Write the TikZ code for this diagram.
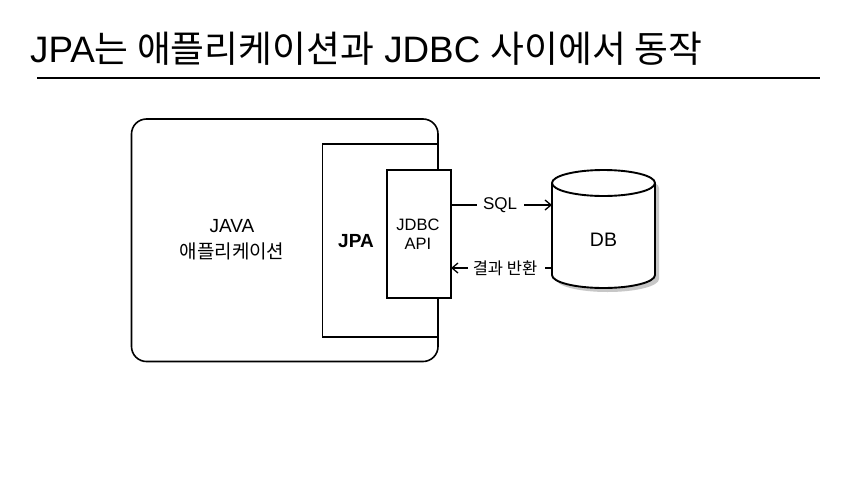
\documentclass[tikz,border=0pt]{standalone}
\usepackage{fontspec}
\setmainfont{Liberation Sans}
\newfontfamily\kr{Noto Sans CJK KR}
\usetikzlibrary{arrows.meta}
\begin{document}
\begin{tikzpicture}[x=1pt,y=-1pt,
  box/.style={draw,line width=1.6pt},
  lbl/.style={inner sep=0pt,align=center},
  flow/.style={line width=1.3pt,-{Straight Barb[length=6pt,width=10pt,line width=1.3pt]}}]
\useasboundingbox (0,0) rectangle (858,479);
\fill[white] (0,0) rectangle (858,479);
% title
\node[anchor=base west,inner sep=0pt,font=\fontsize{36.8}{40}\selectfont] (title) at (30,62)
  {JPA{\kr 는 애플리케이션과} JDBC {\kr 사이에서 동작}};
\draw[line width=1.2pt] (37,78) coordinate (r1) -- (820,78) coordinate (r2);
% boxes
\draw[box,rounded corners=15pt] (131.5,119) rectangle (438,361.5);
\draw[box] (322.5,144) rectangle (438,337);
\draw[box,fill=white] (387,170) rectangle (451,298);
\coordinate (jdbcR1) at (451,205);
\coordinate (jdbcR2) at (451,268);
% texts
\node[lbl,font=\fontsize{19}{26}\selectfont] (java) at (232,240) {JAVA\\{\kr 애플리케이션}};
\node[lbl,font=\bfseries\fontsize{19}{20}\selectfont] (jpat) at (356,241) {JPA};
\node[lbl,font=\fontsize{16.5}{18.5}\selectfont] (api) at (418,234) {JDBC\\API};
% cylinder
\fill[black!22] (556,188) -- (556,279) arc[start angle=180,end angle=0,x radius=51.5,y radius=13] -- (659,188) arc[start angle=0,end angle=-180,x radius=51.5,y radius=13] -- cycle;
\draw[line width=1.9pt,fill=white] (552,183) -- (552,275) arc[start angle=180,end angle=0,x radius=51.5,y radius=13] -- (655,183) arc[start angle=0,end angle=-180,x radius=51.5,y radius=13] -- cycle;
\draw[line width=1.9pt] (552,183) arc[start angle=180,end angle=0,x radius=51.5,y radius=13];
\node[lbl,font=\fontsize{19.5}{22}\selectfont] (db) at (603.5,240) {DB};
\coordinate (dbL1) at (552,205);
\coordinate (dbL2) at (552,268);
% connectors
\node[lbl,font=\fontsize{17}{18}\selectfont] (sql) at (500,205) {SQL};
\draw[line width=1.3pt] (jdbcR1) -- ([xshift=-6pt]sql.west);
\draw[flow] ([xshift=7pt]sql.east) -- (dbL1);
\node[lbl,font=\fontsize{16.5}{18}\selectfont\kr] (ret) at (505,268) {결과 반환};
\draw[line width=1.3pt] (dbL2) -- ([xshift=8pt]ret.east);
\draw[flow] ([xshift=-5pt]ret.west) -- (jdbcR2);
\end{tikzpicture}
\end{document}
